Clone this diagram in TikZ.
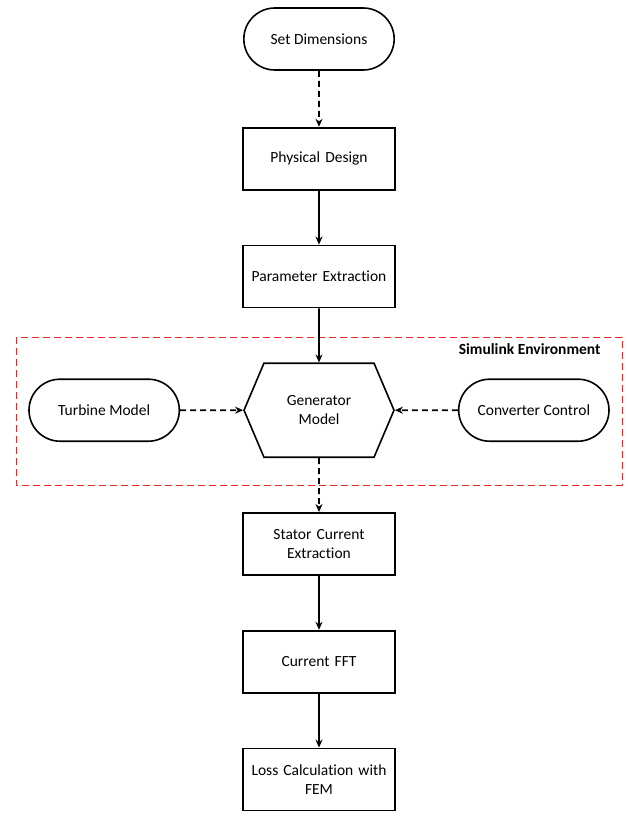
\documentclass[tikz,border=0pt]{standalone}
\usepackage{fontspec}
\setmainfont{Carlito}[Ligatures=NoCommon]
\usetikzlibrary{positioning, arrows.meta, shapes.misc, shapes.symbols}
\definecolor{envred}{RGB}{235,40,40}
\tikzset{
	>={Stealth[length=8pt,width=7pt]},
	node distance=54pt,
	align=center,
	every node/.style={font=\fontsize{15.5}{19}\selectfont},
	stepbox/.style={draw, line width=1.8pt, minimum width=152pt, minimum height=62pt, text width=146pt},
	terminal/.style={draw, rounded rectangle, line width=1.6pt, minimum width=157pt, minimum height=62pt},
	hexbox/.style={draw, signal, signal to=west and east, signal pointer angle=134, line width=1.6pt, minimum width=150pt, minimum height=94pt},
	flow/.style={->, line width=1.6pt},
	dflow/.style={->, line width=1.6pt, dash pattern=on 6pt off 4pt},
	envframe/.style={draw=envred, line width=1pt, dash pattern=on 7pt off 4pt}
}

\begin{document}
\begin{tikzpicture}[x=1pt, y=1pt]
	\useasboundingbox (0,0) rectangle (628,-816);
	
	\node[terminal] (setdim) at (319,-39) {Set Dimensions};
	\node[stepbox, below=56pt of setdim] (phys) {Physical Design};
	\node[stepbox, below=of phys] (param) {Parameter Extraction};
	\node[hexbox, below=of param] (gen) {Generator\\Model};
	\node[terminal, left=63pt of gen] (turb) {Turbine Model};
	\node[terminal, right=63pt of gen] (conv) {Converter Control};
	\node[stepbox, below=of gen] (stator) {Stator Current\\Extraction};
	\node[stepbox, below=of stator] (fft) {Current FFT};
	\node[stepbox, below=of fft] (loss) {Loss Calculation with\\FEM};
	
	% simulink part
	\draw[envframe] (16,-337) rectangle (622,-485);
	\node[anchor=east, font=\fontsize{15.5}{19}\selectfont\bfseries] (env) at (604,-349) {Simulink Environment};
	
	\draw[dflow] (setdim) -- (phys);
	\draw[flow] (phys) -- (param);
	\draw[flow] (param) -- (gen);
	\draw[dflow] (turb) -- (gen);
	\draw[dflow] (conv) -- (gen);
	\draw[dflow] (gen) -- (stator);
	\draw[flow] (stator) -- (fft);
	\draw[flow] (fft) -- (loss);
\end{tikzpicture}
\end{document}
